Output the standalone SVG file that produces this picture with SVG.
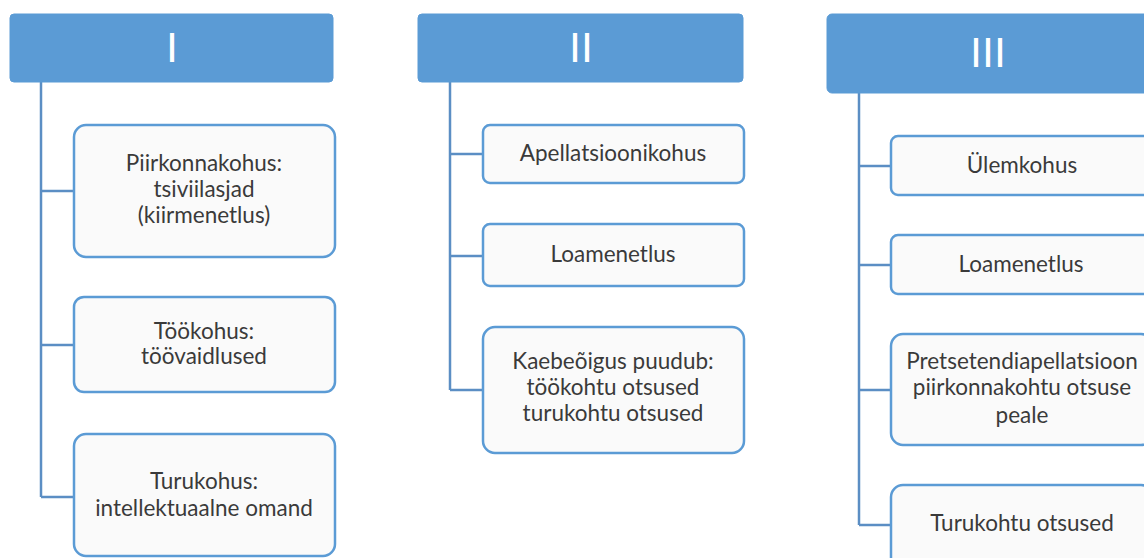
<svg xmlns="http://www.w3.org/2000/svg" width="1144" height="558" viewBox="0 0 1144 558">
<style>
.hdr{fill:#5B9BD5;stroke:#5B9BD5;stroke-width:1}
.num{font-family:"Liberation Sans",Lato,sans-serif;font-size:43px;fill:#ffffff;text-anchor:middle}
.box{fill:#FAFAFA;stroke:#5B9BD5;stroke-width:2.5}
.t{font-family:Lato,"Liberation Sans",sans-serif;font-size:22.5px;fill:#3a3a3a;text-anchor:middle}
.con{fill:none;stroke:#5B8EC4;stroke-width:2.5}
</style>
<rect width="1144" height="558" fill="#ffffff"/>
<g id="connectors">
<path class="con" d="M41 82 V497 M41 191 H74 M41 345 H74 M41 497 H74"/>
<path class="con" d="M450 82 V390 M450 154 H483 M450 256 H483 M450 390 H483"/>
<path class="con" d="M859 93 V525 M859 166 H891 M859 265 H891 M859 390 H891 M859 525 H891"/>
</g>
<g id="h1"><rect class="hdr" x="10" y="14" width="323" height="68" rx="4"/><text class="num" x="172" y="62">I</text></g>
<g id="h2"><rect class="hdr" x="418" y="14" width="325" height="68" rx="4"/><text class="num" x="581" y="62">II</text></g>
<g id="h3"><rect class="hdr" x="827" y="14" width="330" height="79" rx="5"/><text class="num" x="988" y="67">III</text></g>
<g id="n1"><rect class="box" x="74" y="125" width="261" height="132" rx="12"/>
<text class="t" x="204" y="171">Piirkonnakohus:</text><text class="t" x="204" y="197">tsiviilasjad</text><text class="t" x="204" y="223">(kiirmenetlus)</text></g>
<g id="n2"><rect class="box" x="74" y="297" width="261" height="95" rx="10"/>
<text class="t" x="204" y="339">Töökohus:</text><text class="t" x="204" y="364">töövaidlused</text></g>
<g id="n3"><rect class="box" x="74" y="434" width="261" height="122" rx="12"/>
<text class="t" x="204" y="489">Turukohus:</text><text class="t" x="204" y="516">intellektuaalne omand</text></g>
<g id="n4"><rect class="box" x="483" y="125" width="261" height="58" rx="7"/>
<text class="t" x="613" y="161">Apellatsioonikohus</text></g>
<g id="n5"><rect class="box" x="483" y="224" width="261" height="62" rx="7"/>
<text class="t" x="613" y="262">Loamenetlus</text></g>
<g id="n6"><rect class="box" x="483" y="327" width="261" height="126" rx="12"/>
<text class="t" x="613" y="369">Kaebeõigus puudub:</text><text class="t" x="613" y="395">töökohtu otsused</text><text class="t" x="613" y="421">turukohtu otsused</text></g>
<g id="n7"><rect class="box" x="891" y="136" width="262" height="59" rx="7"/>
<text class="t" x="1022" y="173">Ülemkohus</text></g>
<g id="n8"><rect class="box" x="891" y="235" width="262" height="59" rx="7"/>
<text class="t" x="1021" y="272">Loamenetlus</text></g>
<g id="n9"><rect class="box" x="891" y="334" width="262" height="111" rx="12"/>
<text class="t" x="1022" y="369">Pretsetendiapellatsioon</text><text class="t" x="1022" y="395">piirkonnakohtu otsuse</text><text class="t" x="1022" y="423">peale</text></g>
<g id="n10"><rect class="box" x="891" y="485" width="262" height="90" rx="12"/>
<text class="t" x="1022" y="531">Turukohtu otsused</text></g>
</svg>
